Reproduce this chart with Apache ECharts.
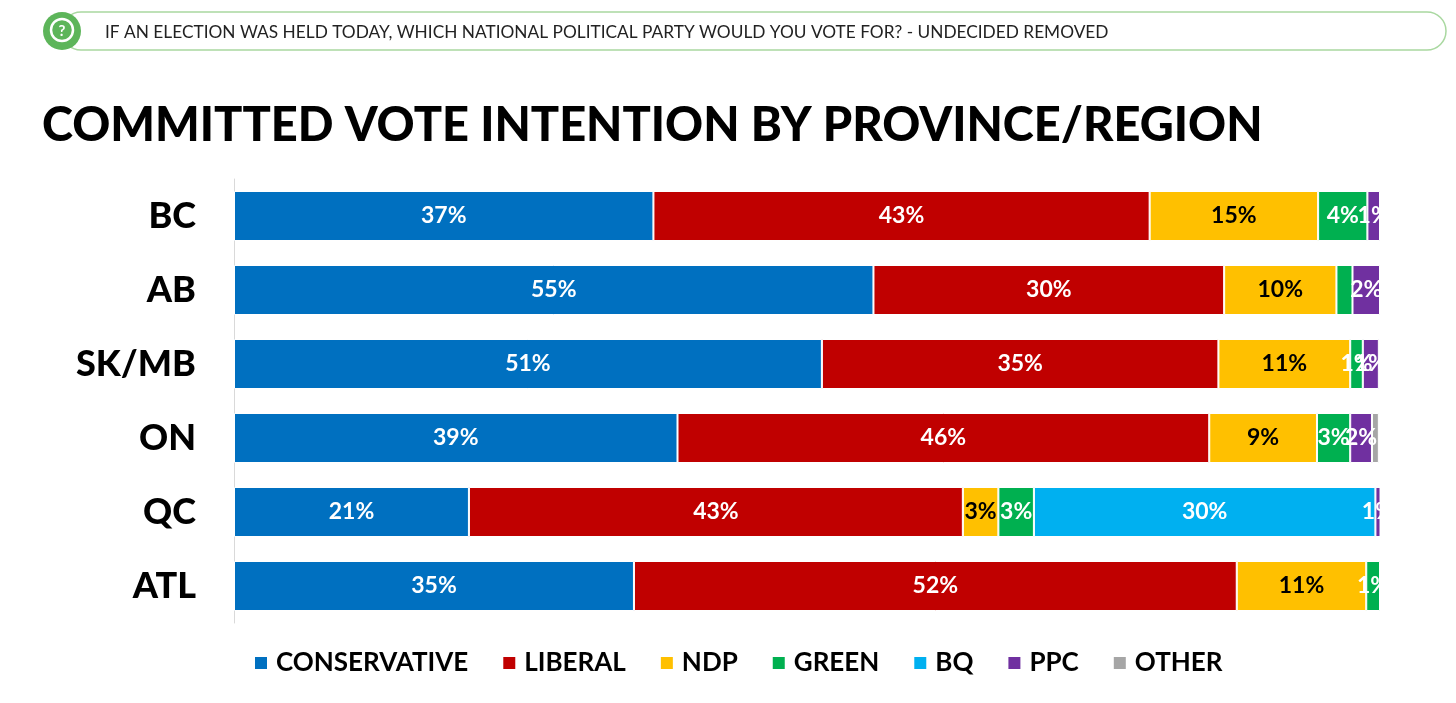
<!DOCTYPE html>
<html lang="en">
<head>
  <meta charset="UTF-8">
  <title>Committed vote intention by province/region</title>
  <style>
    html,body{margin:0;padding:0;background:#fff;}
    #main{width:1456px;height:703px;}
  </style>
</head>
<body>
  <div id="main"></div>
  <script src="https://cdn.jsdelivr.net/npm/echarts@6/dist/echarts.min.js"></script>
  <script>
    // regions, top to bottom as shown
    const regions=['BC','AB','SK/MB','ON','QC','ATL'];
    const parties=['CONSERVATIVE','LIBERAL','NDP','GREEN','BQ','PPC','OTHER'];
    const colors=['#0070C0','#C00000','#FFC000','#00B050','#00B0F0','#7030A0','#A6A6A6'];

    // shares (%) per party, in region order
    const conservative=[36.6,55.8,51.3,38.7,20.5,34.9];
    const liberal=[43.3,30.6,34.6,46.4,43.1,52.6];
    const ndp=[14.7,9.8,11.5,9.4,3.1,11.3];
    const green=[4.3,1.4,1.1,2.9,3.1,1.2];
    const bq=[0,0,0,0,29.8,0];
    const ppc=[1.1,2.4,1.4,1.9,0.5,0];
    const other=[0,0,0,0.6,0,0];
    // labels printed on the bars (blank = none)
    const conservativeLbl=['37%','55%','51%','39%','21%','35%'];
    const liberalLbl=['43%','30%','35%','46%','43%','52%'];
    const ndpLbl=['15%','10%','11%','9%','3%','11%'];
    const greenLbl=['4%','','1%','3%','3%','1%'];
    const bqLbl=['','','','','30%',''];
    const ppcLbl=['1%','2%','1%','2%','1%',''];
    const otherLbl=['','','','','',''];

    const values=[conservative,liberal,ndp,green,bq,ppc,other];
    const labels=[conservativeLbl,liberalLbl,ndpLbl,greenLbl,bqLbl,ppcLbl,otherLbl];

    const chart=echarts.init(document.querySelector('#main'));

    const series=parties.map((p,i)=>({
      name:p,
      type:'bar',
      stack:'total',
      barWidth:50,
      itemStyle:{color:colors[i],borderColor:'#fff',borderWidth:1},
      label:{
        show:true,
        position:'inside',
        color:i===2?'#000':'#fff',
        fontFamily:'Lato',
        fontWeight:'bold',
        fontSize:23,
        formatter:params=>labels[i][params.dataIndex]
      },
      data:values[i].map(v=>v===0?null:v)
    }));

    const option={
      animation:false,
      textStyle:{fontFamily:'Lato'},
      title:{
        text:'COMMITTED VOTE INTENTION BY PROVINCE/REGION',
        left:37,
        top:97,
        textStyle:{fontFamily:'Lato',fontWeight:900,fontSize:47,color:'#000'}
      },
      graphic:[
        {type:'rect',shape:{x:62,y:12,width:1384,height:38,r:19},
          style:{fill:'#fff',stroke:'#A9D8A0',lineWidth:1.5}},
        {type:'circle',shape:{cx:62,cy:31,r:19},style:{fill:'#5DB55A'}},
        {type:'circle',shape:{cx:62,cy:30,r:11},style:{fill:'none',stroke:'#fff',lineWidth:2.5}},
        {type:'text',x:62,y:31,style:{text:'?',fill:'#fff',fontSize:15,fontWeight:'bold',
          fontFamily:'Lato',align:'center',verticalAlign:'middle'}},
        {type:'text',x:105,y:32,style:{text:'IF AN ELECTION WAS HELD TODAY, WHICH NATIONAL POLITICAL PARTY WOULD YOU VOTE FOR? - UNDECIDED REMOVED',
          fill:'#222',fontSize:17.3,fontFamily:'Lato',verticalAlign:'middle'}}
      ],
      legend:{
        data:parties,
        left:248,
        top:645,
        itemWidth:14,
        itemHeight:14,
        itemGap:33,
        icon:'rect',
        textStyle:{fontFamily:'Lato',fontWeight:'bold',fontSize:26,color:'#000',padding:[0,0,0,3]}
      },
      grid:{left:234,right:76,top:179,height:444,containLabel:false},
      xAxis:{
        type:'value',
        min:0,
        max:100,
        show:false
      },
      yAxis:{
        type:'category',
        data:regions,
        inverse:true,
        axisLine:{show:true,lineStyle:{color:'#D9D9D9',width:1}},
        axisTick:{show:false},
        axisLabel:{fontFamily:'Lato',fontWeight:900,fontSize:36,color:'#000',margin:38}
      },
      series:series
    };
    chart.setOption(option);
  </script>
</body>
</html>
